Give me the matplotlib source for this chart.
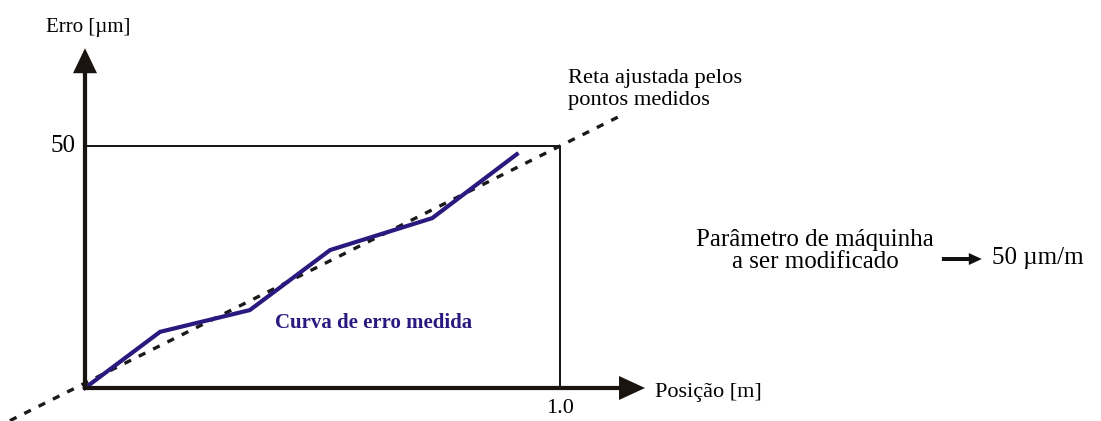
import matplotlib
matplotlib.use("Agg")
import matplotlib.pyplot as plt
from matplotlib.patches import FancyArrow

plt.rcParams['font.family'] = ['Liberation Serif', 'DejaVu Serif']

# measured error curve (position in m, error in µm)
pos_measured = [0.0, 0.158, 0.347, 0.516, 0.731, 0.909]
err_measured = [0.0, 11.6, 16.1, 28.5, 35.1, 48.3]

# straight line fitted through the measured points
fit_x = [-0.158, 1.126]
fit_intercept = 1.0
fit_slope = 49.0

x_max_label = 1.0
y_max_label = 50

W, H = 1101, 421
PX_X = 475.0   # pixels per metre
PX_Y = 4.84    # pixels per µm
fig = plt.figure(figsize=(W / 100, H / 100), dpi=100)
ax = fig.add_axes([0, 0, 1, 1])
# origin placed at (85, 388) px
ax.set_xlim(-85 / PX_X, (W - 85) / PX_X)
ax.set_ylim((388 - H) / PX_Y, 388 / PX_Y)
ax.axis('off')

blue = '#2a1a80'
axis_col = '#1a1410'

# reference box up to (1.0, 50)
ax.plot([0, x_max_label, x_max_label], [y_max_label, y_max_label, 0],
        color='black', lw=1.3, solid_capstyle='butt', zorder=2)

# fitted line (dashed)
fy = [fit_intercept + fit_slope * x for x in fit_x]
ax.plot(fit_x, fy, color='#1a1a1a', lw=2.4, dashes=(2.2, 2.6), zorder=3)

# measured curve
ax.plot(pos_measured, err_measured, color=blue, lw=3.0, zorder=4,
        solid_joinstyle='miter')


def arrow(x0, y0, x1, y1, shaft_px, head_w_px, head_l_px, color):
    vertical = x0 == x1
    if vertical:
        w, hw, hl = shaft_px / PX_X, head_w_px / PX_X, head_l_px / PX_Y
    else:
        w, hw, hl = shaft_px / PX_Y, head_w_px / PX_Y, head_l_px / PX_X
    ax.add_patch(FancyArrow(x0, y0, x1 - x0, y1 - y0, width=w, head_width=hw,
                            head_length=hl, length_includes_head=True,
                            color=color, lw=0, zorder=5))


# axes with arrow heads
arrow(0, -0.4, 0, 70.2, 4.2, 24, 25, axis_col)
arrow(-0.004, 0, 1.179, 0, 4.2, 24, 26, axis_col)

# axis labels
ax.text(0.006, 73.5, 'Erro [µm]', fontsize=15, ha='center', va='baseline')
ax.text(-0.02, y_max_label, f'{y_max_label}', fontsize=18, ha='right', va='center')
ax.text(x_max_label, -4.2, f'{x_max_label:.1f}', fontsize=16, ha='center', va='center')
ax.text(1.20, -1.0, 'Posição [m]', fontsize=16, ha='left', va='center')

# annotations
ax.text(1.017, 61.6, 'Reta ajustada pelos\npontos medidos', fontsize=16.2,
        ha='left', va='center', linespacing=1.2)
ax.text(0.4, 13.4, 'Curva de erro medida', fontsize=15, ha='left', va='center',
        color=blue, fontweight='bold')

ax.text(1.537, 28.3, 'Parâmetro de máquinha\na ser modificado', fontsize=18,
        ha='center', va='center', linespacing=1.05, multialignment='center')
arrow(1.804, 26.65, 1.888, 26.65, 4, 12, 13, '#111111')
ax.text(1.91, 26.8, '50 µm/m', fontsize=18, ha='left', va='center')

fig.savefig('out.png', dpi=100)
